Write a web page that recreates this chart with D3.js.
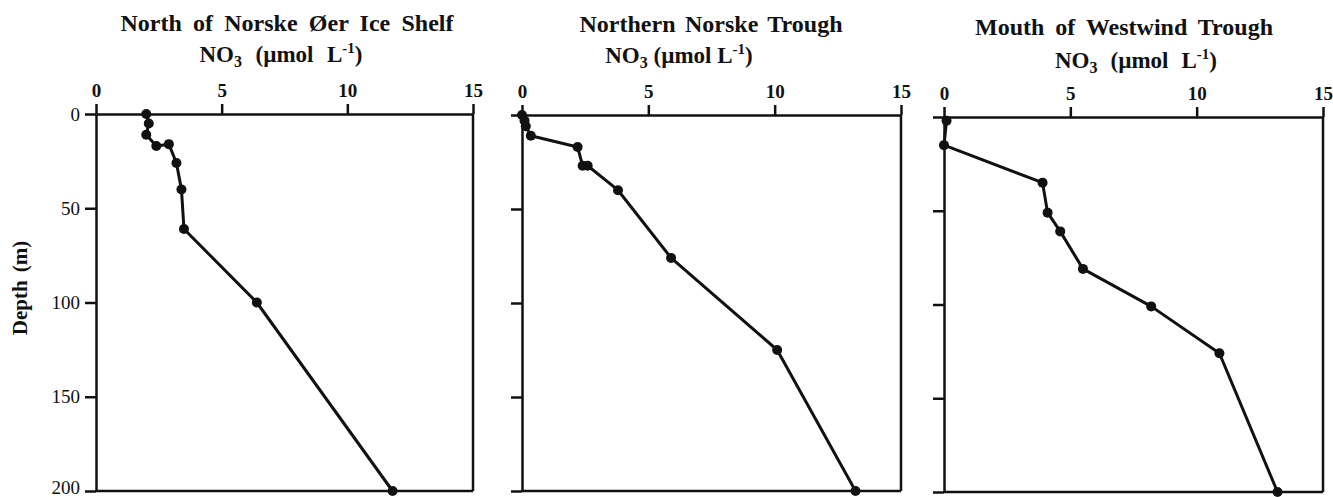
<!DOCTYPE html>
<html><head><meta charset="utf-8">
<script src="https://cdn.jsdelivr.net/npm/d3@7"></script>
<style>
body{margin:0;background:#fff;}
svg text{font-family:"Liberation Serif","Times New Roman",serif;font-weight:bold;fill:#111;}
</style></head>
<body><svg id="c" width="1333" height="497"></svg>
<script>
// ---- data ----
const titles = ["North of Norske Øer Ice Shelf", "Northern Norske Trough", "Mouth of Westwind Trough"];
const xTicks = [0, 5, 10, 15];
const depthTicks = [0, 50, 100, 150, 200];
const northNO3   = [2.0, 2.1, 2.0, 2.4, 2.9, 3.2, 3.4, 3.5, 6.4, 11.8];
const northDepth = [0, 5, 11, 17, 16, 26, 40, 61, 100, 200];
const troughNO3   = [0.0, 0.1, 0.15, 0.35, 2.2, 2.4, 2.6, 3.8, 5.9, 10.1, 13.2];
const troughDepth = [0, 3, 6, 11, 17, 27, 27, 40, 76, 125, 200];
const westNO3   = [0.1, 0.0, 3.9, 4.1, 4.6, 5.5, 8.2, 10.9, 13.2];
const westDepth = [2, 15, 35, 51, 61, 81, 101, 126, 200];

const series = [
  {x: northNO3, d: northDepth},
  {x: troughNO3, d: troughDepth},
  {x: westNO3, d: westDepth}
];
// layout
const panels = [
  {l: 96, r: 473, t: 114, b: 491, titleX: 287, titleW: 333, titleY: 25, unitX: 281, unitW: 163, unitY: 57, labels: true},
  {l: 522, r: 901, t: 115, b: 491, titleX: 711, titleW: 263, titleY: 26, unitX: 679, unitW: 136, unitY: 58, labels: false},
  {l: 944, r: 1323, t: 117, b: 492, titleX: 1124, titleW: 298, titleY: 29, unitX: 1136, unitW: 162, unitY: 63, labels: false}
];

const svg = d3.select("#c");
const ink = "#111";

function fitWords(sel, target) {
  const node = sel.node();
  const nat = node.getComputedTextLength();
  const txt = node.textContent;
  const n = (txt.match(/ /g) || []).length;
  if (n > 0 && target > nat) sel.style("word-spacing", ((target - nat) / n) + "px");
}

panels.forEach((p, i) => {
  const x = d3.scaleLinear().domain([0, 15]).range([p.l, p.r]);
  const y = d3.scaleLinear().domain([0, 200]).range([p.t, p.b]);
  const g = svg.append("g");

  const t = g.append("text").attr("x", p.titleX).attr("y", p.titleY).attr("text-anchor", "middle")
    .attr("dominant-baseline", "middle").style("font-size", "24px").text(titles[i]);
  fitWords(t, p.titleW);
  const u = g.append("text").attr("x", p.unitX).attr("y", p.unitY).attr("text-anchor", "middle")
    .attr("dominant-baseline", "middle").style("font-size", "23px");
  u.append("tspan").text("NO");
  u.append("tspan").attr("dy", 6).style("font-size", "16px").text("3");
  u.append("tspan").attr("dy", -6).text(" (µmol L");
  u.append("tspan").attr("dy", -7).style("font-size", "15px").text("-1");
  u.append("tspan").attr("dy", 7).text(")");
  fitWords(u, p.unitW);

  // top axis
  const ax = g.append("g").attr("transform", `translate(0,${p.t})`)
    .call(d3.axisTop(x).tickValues(xTicks).tickSize(10).tickPadding(7).tickSizeOuter(0).tickFormat(d3.format("d")));
  ax.selectAll("text").style("font-size", "19px");
  // left axis
  const ay = g.append("g").attr("transform", `translate(${p.l},0)`)
    .call(d3.axisLeft(y).tickValues(depthTicks).tickSize(11).tickPadding(5).tickSizeOuter(0)
      .tickFormat(p.labels ? d3.format("d") : ""));
  ay.selectAll("text").style("font-size", "19px").style("font-weight", "normal")
    .attr("dy", d => d === 200 ? "0.15em" : "0.32em");
  g.selectAll(".domain").attr("stroke", ink).attr("stroke-width", 2.5);
  g.selectAll(".tick line").attr("stroke", ink).attr("stroke-width", 2.5);
  // right & bottom frame
  g.append("line").attr("x1", p.r).attr("x2", p.r).attr("y1", p.t).attr("y2", p.b)
    .attr("stroke", ink).attr("stroke-width", 2.5);
  g.append("line").attr("x1", p.l).attr("x2", p.r).attr("y1", p.b).attr("y2", p.b)
    .attr("stroke", ink).attr("stroke-width", 2.5);

  const s = series[i];
  const pts = s.x.map((v, k) => [v, s.d[k]]);
  g.append("path").datum(pts)
    .attr("d", d3.line().x(d => x(d[0])).y(d => y(d[1])))
    .attr("fill", "none").attr("stroke", ink).attr("stroke-width", 3).attr("stroke-linejoin", "round");
  g.selectAll("circle").data(pts).join("circle")
    .attr("cx", d => x(d[0])).attr("cy", d => y(d[1])).attr("r", 5).attr("fill", ink);
});

svg.append("text").attr("transform", "translate(22,288) rotate(-90)")
  .attr("text-anchor", "middle").attr("dominant-baseline", "middle")
  .style("font-size", "21px").style("word-spacing", "3px").text("Depth (m)");
</script></body></html>
